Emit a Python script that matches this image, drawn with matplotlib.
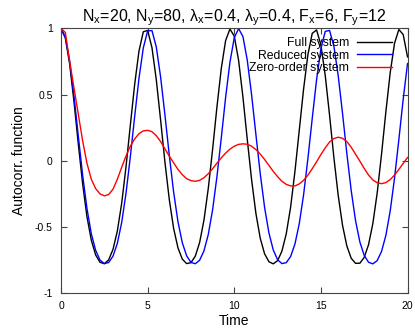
import numpy as np
import matplotlib
matplotlib.use('Agg')
import matplotlib.pyplot as plt

plt.rcParams['font.family'] = ['Liberation Sans', 'DejaVu Sans']
plt.rcParams['mathtext.fontset'] = 'custom'
plt.rcParams['mathtext.rm'] = 'Liberation Sans'

# time axis, sampled every 0.25
time = np.arange(0, 20.001, 0.25)

full_system = [
    1.000, 0.928, 0.730, 0.445, 0.125, -0.176, -0.424, -0.601, -0.712, -0.767,
    -0.778, -0.749, -0.670, -0.532, -0.323, -0.048, 0.267, 0.576, 0.829, 0.975,
    0.985, 0.855, 0.612, 0.306, -0.012, -0.293, -0.511, -0.658, -0.743, -0.777,
    -0.770, -0.721, -0.618, -0.449, -0.209, 0.087, 0.407, 0.697, 0.908, 0.996,
    0.942, 0.759, 0.482, 0.162, -0.143, -0.399, -0.586, -0.703, -0.763, -0.779,
    -0.755, -0.683, -0.552, -0.352, -0.083, 0.229, 0.541, 0.802, 0.963, 0.989,
    0.875, 0.645, 0.344, 0.024, -0.263, -0.489, -0.645, -0.737, -0.775, -0.774,
    -0.730, -0.634, -0.473, -0.242, 0.050, 0.370, 0.666, 0.888, 0.992, 0.954,
    0.785,
]

reduced_system = [
    1.000, 0.935, 0.753, 0.488, 0.185, -0.110, -0.362, -0.552, -0.677, -0.750,
    -0.777, -0.769, -0.721, -0.625, -0.468, -0.247, 0.029, 0.333, 0.623, 0.853,
    0.982, 0.984, 0.860, 0.632, 0.345, 0.041, -0.236, -0.460, -0.619, -0.718,
    -0.768, -0.778, -0.752, -0.681, -0.557, -0.370, -0.120, 0.172, 0.478, 0.744,
    0.930, 0.999, 0.939, 0.761, 0.499, 0.197, -0.098, -0.352, -0.545, -0.674,
    -0.748, -0.777, -0.770, -0.724, -0.630, -0.476, -0.258, 0.017, 0.320, 0.612,
    0.846, 0.978, 0.985, 0.866, 0.642, 0.356, 0.052, -0.226, -0.453, -0.614,
    -0.715, -0.767, -0.779, -0.754, -0.685, -0.564, -0.379, -0.131, 0.161, 0.466,
    0.735,
]

zero_order = [
    1.000, 0.970, 0.750, 0.550, 0.350, 0.150, -0.020, -0.140, -0.210, -0.250,
    -0.265, -0.255, -0.215, -0.140, -0.050, 0.035, 0.110, 0.165, 0.205, 0.226,
    0.230, 0.220, 0.190, 0.145, 0.090, 0.035, -0.015, -0.065, -0.105, -0.135,
    -0.150, -0.155, -0.148, -0.128, -0.098, -0.060, -0.018, 0.022, 0.058, 0.088,
    0.110, 0.124, 0.128, 0.125, 0.110, 0.085, 0.050, 0.010, -0.035, -0.080,
    -0.120, -0.155, -0.178, -0.190, -0.190, -0.175, -0.148, -0.108, -0.060, -0.008,
    0.047, 0.098, 0.142, 0.168, 0.178, 0.170, 0.145, 0.102, 0.050, -0.003,
    -0.058, -0.108, -0.145, -0.166, -0.173, -0.165, -0.142, -0.108, -0.065, -0.020,
    0.025,
]

fig = plt.figure(figsize=(4.15, 3.31), dpi=100)
ax = fig.add_axes([0.147, 0.1145, 0.835, 0.7995])

ax.plot(time, full_system, color='black', lw=1.0, label='Full system')
ax.plot(time, reduced_system, color='#0000ff', lw=1.0, label='Reduced system')
ax.plot(time, zero_order, color='#ff0000', lw=1.0, label='Zero-order system')

ax.set_xlim(0, 20)
ax.set_ylim(-1, 1)
ax.set_xticks([0, 5, 10, 15, 20])
ax.set_yticks([-1, -0.5, 0, 0.5, 1])
ax.set_yticklabels(['-1', '-0.5', '0', '0.5', '1'])
ax.tick_params(direction='in', length=4, width=0.8, color='#444444',
               top=True, right=True, labelsize=7.5, pad=6)
for s in ax.spines.values():
    s.set_color('#444444')
    s.set_linewidth(0.8)

ax.set_xlabel('Time', fontsize=10, labelpad=2)
ax.set_ylabel('Autocorr. function', fontsize=10, labelpad=6)
ax.set_title(r'N$_\mathrm{x}$=20, N$_\mathrm{y}$=80, $\mathrm{\lambda}_\mathrm{x}$=0.4, '
             r'$\mathrm{\lambda}_\mathrm{y}$=0.4, F$_\mathrm{x}$=6, F$_\mathrm{y}$=12',
             fontsize=11.5, pad=5)

ax.legend(loc='upper right', frameon=False, markerfirst=False, fontsize=8.8,
          handlelength=2.9, handletextpad=0.6, labelspacing=0.05,
          borderaxespad=0.3, bbox_to_anchor=(0.98, 1.0))

fig.savefig('out.png', dpi=100)
